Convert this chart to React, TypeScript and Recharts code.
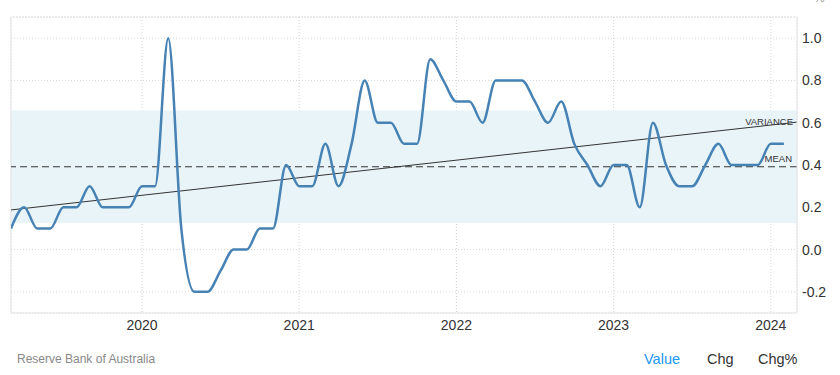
import React from "react";
import {
  LineChart,
  Line,
  XAxis,
  YAxis,
  CartesianGrid,
  ReferenceArea,
  ReferenceLine,
} from "recharts";

// Monthly observations (end of month)
const months = [
  "2019-02", "2019-03", "2019-04", "2019-05", "2019-06", "2019-07", "2019-08", "2019-09", "2019-10", "2019-11", "2019-12", "2020-01",
  "2020-02", "2020-03", "2020-04", "2020-05", "2020-06", "2020-07", "2020-08", "2020-09", "2020-10", "2020-11", "2020-12", "2021-01",
  "2021-02", "2021-03", "2021-04", "2021-05", "2021-06", "2021-07", "2021-08", "2021-09", "2021-10", "2021-11", "2021-12", "2022-01",
  "2022-02", "2022-03", "2022-04", "2022-05", "2022-06", "2022-07", "2022-08", "2022-09", "2022-10", "2022-11", "2022-12", "2023-01",
  "2023-02", "2023-03", "2023-04", "2023-05", "2023-06", "2023-07", "2023-08", "2023-09", "2023-10", "2023-11", "2023-12", "2024-01",
];

const values = [
  0.1, 0.2, 0.1, 0.1, 0.2, 0.2, 0.3, 0.2, 0.2, 0.2, 0.3, 0.3,
  1.0, 0.1, -0.2, -0.2, -0.1, 0.0, 0.0, 0.1, 0.1, 0.4, 0.3, 0.3,
  0.5, 0.3, 0.5, 0.8, 0.6, 0.6, 0.5, 0.5, 0.9, 0.8, 0.7, 0.7,
  0.6, 0.8, 0.8, 0.8, 0.7, 0.6, 0.7, 0.5, 0.4, 0.3, 0.4, 0.4,
  0.2, 0.6, 0.4, 0.3, 0.3, 0.4, 0.5, 0.4, 0.4, 0.4, 0.5, 0.5,
];

const yearTicks = ["2020", "2021", "2022", "2023", "2024"];
const yTicks = [-0.2, 0, 0.2, 0.4, 0.6, 0.8, 1.0];
const yDomain = [-0.3, 1.1];
const xDomainMonths = ["2019-02", "2024-02"];

const sourceLabel = "Reserve Bank of Australia";
const legendItems = ["Value", "Chg", "Chg%"];
const unitLabel = "%";

// month string -> months since Jan 1 2020 (end-of-month position)
const toX = (m: string) => {
  const [y, mo] = m.split("-").map(Number);
  return (y - 2020) * 12 + mo;
};

const data = months.map((m, i) => ({ x: toX(m), value: values[i] }));
const xTickVals = yearTicks.map((y) => (Number(y) - 2020) * 12);
const xDomain = xDomainMonths.map(toX);

const n = values.length;
const mean = values.reduce((a, b) => a + b, 0) / n;
const std = Math.sqrt(values.reduce((a, b) => a + (b - mean) * (b - mean), 0) / n);
const xs = data.map((d) => d.x);
const xMean = xs.reduce((a, b) => a + b, 0) / n;
const slope =
  xs.reduce((a, x, i) => a + (x - xMean) * (values[i] - mean), 0) /
  xs.reduce((a, x) => a + (x - xMean) * (x - xMean), 0);
const trendAt = (x: number) => mean + slope * (x - xMean);

const FONT = "'Liberation Sans', Arial, sans-serif";

export default function App() {
  return (
    <div style={{ position: "absolute", left: 0, top: 0, width: 840, height: 375, background: "#fff", fontFamily: FONT, overflow: "hidden" }}>
      <div style={{ position: "absolute", left: 814, top: -9, fontSize: 12, color: "#999" }}>{unitLabel}</div>
      <LineChart
        width={840}
        height={342}
        data={data}
        margin={{ top: 17, right: 0, bottom: 12, left: 11 }}
        style={{ fontFamily: FONT }}
      >
        <ReferenceArea
          y1={mean - std}
          y2={mean + std}
          fill="#e9f4f9"
          fillOpacity={1}
          stroke="none"
        />
        <CartesianGrid stroke="#d6d6d6" strokeDasharray="1 2" />
        <ReferenceLine y={yDomain[1]} stroke="#d6d6d6" strokeDasharray="1 2" />
        <ReferenceLine x={xDomain[0]} stroke="#e3e3e3" />
        <XAxis
          type="number"
          dataKey="x"
          domain={xDomain}
          ticks={xTickVals}
          tickFormatter={(v: number) => String(2020 + Math.round(v / 12))}
          height={17}
          tickSize={0}
          tickMargin={7}
          axisLine={{ stroke: "#e3e3e3" }}
          tick={{ fill: "#333", fontSize: 14 }}
          allowDataOverflow
        />
        <YAxis
          orientation="right"
          type="number"
          domain={yDomain}
          ticks={yTicks}
          tickFormatter={(v: number) => v.toFixed(1)}
          width={43}
          tickSize={0}
          tickMargin={5}
          axisLine={{ stroke: "#e3e3e3" }}
          tick={{ fill: "#333", fontSize: 14, textAnchor: "start" }}
          allowDataOverflow
        />
        <ReferenceLine
          y={mean}
          stroke="#333"
          strokeDasharray="7 4"
          strokeWidth={1}
          label={(props: any) => {
            const vb = props.viewBox || {};
            return (
              <text x={vb.x + vb.width - 5} y={vb.y - 5} textAnchor="end" fontSize={9.5} fill="#333" fontFamily={FONT}>
                MEAN
              </text>
            );
          }}
        />
        <ReferenceLine
          segment={[
            { x: xDomain[0], y: trendAt(xDomain[0]) },
            { x: xDomain[1], y: trendAt(xDomain[1]) },
          ]}
          stroke="#333"
          strokeWidth={1}
          label={(props: any) => {
            const vb = props.viewBox || {};
            return (
              <text x={vb.x + vb.width - 4} y={vb.y + 3} textAnchor="end" fontSize={9.5} fill="#333" fontFamily={FONT}>
                VARIANCE
              </text>
            );
          }}
        />
        <Line
          type="monotone"
          dataKey="value"
          stroke="#4682b4"
          strokeWidth={2.5}
          dot={false}
          isAnimationActive={false}
        />
      </LineChart>
      <div style={{ position: "absolute", left: 17, top: 352, fontSize: 12, color: "#888" }}>{sourceLabel}</div>
      <div style={{ position: "absolute", left: 644, top: 351, fontSize: 14.5, color: "#2196f3" }}>{legendItems[0]}</div>
      <div style={{ position: "absolute", left: 707, top: 351, fontSize: 14.5, color: "#333" }}>{legendItems[1]}</div>
      <div style={{ position: "absolute", left: 758, top: 351, fontSize: 14.5, color: "#333" }}>{legendItems[2]}</div>
    </div>
  );
}
